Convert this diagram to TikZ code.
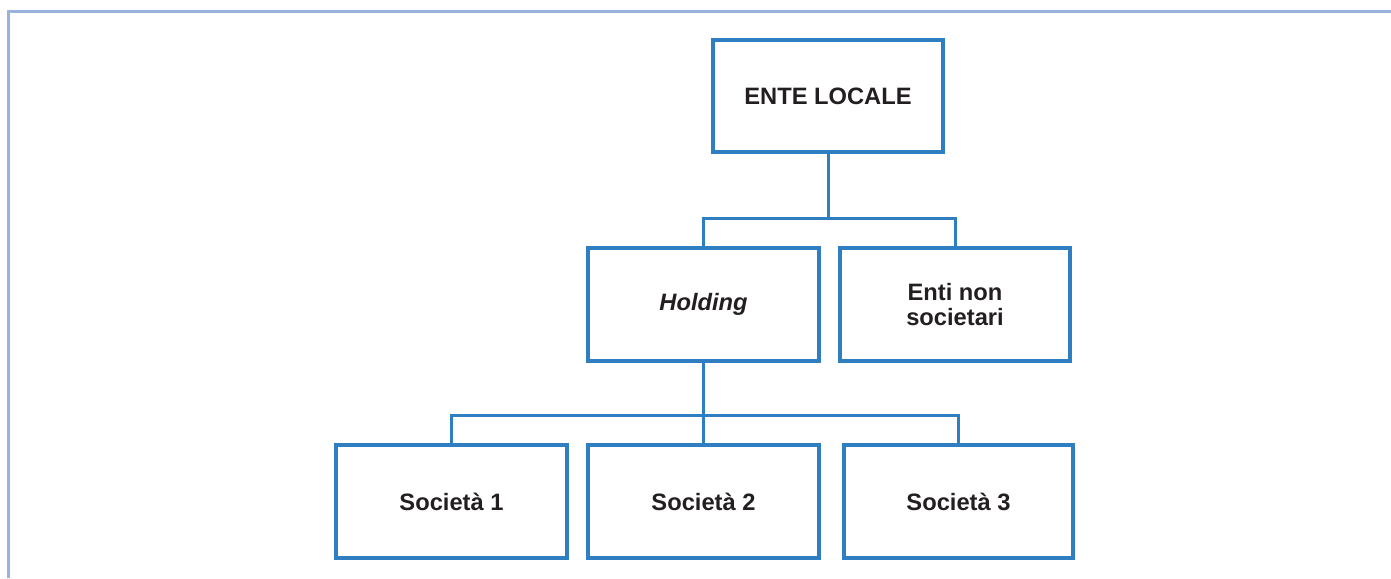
\documentclass[tikz,border=0pt]{standalone}
\usepackage{fontspec}
\setmainfont{Liberation Sans}
\definecolor{boxblue}{HTML}{2E7EC1}
\definecolor{framelav}{HTML}{99B2DE}
\definecolor{ink}{HTML}{231F20}
\begin{document}
\begin{tikzpicture}[x=1pt,y=-1pt,
  orgbox/.style={draw=boxblue, line width=3.2pt, fill=white, text=ink,
    minimum width=231pt, minimum height=113pt, inner sep=0pt, align=center,
    font=\fontsize{23.7}{24.5}\selectfont\bfseries},
  link/.style={draw=boxblue, line width=3pt}]
  \useasboundingbox (0,0) rectangle (1391,578);
  % outer frame (only top and left edges fall inside the page)
  \draw[framelav, line width=3pt] (8.5,578) -- (8.5,12) -- (1391,12);

  % boxes
  \node[orgbox, minimum width=230pt, minimum height=112pt] (ente) at (828,96) {ENTE LOCALE};
  \node[orgbox] (hold) at (703.5,304.5) {\itshape Holding};
  \node[orgbox, minimum width=230pt] (enti) at (955,304.5) {Enti non\\societari};
  \node[orgbox] (s1) at (451.5,501.5) {Società 1};
  \node[orgbox] (s2) at (703.5,501.5) {Società 2};
  \node[orgbox, minimum width=229pt] (s3) at (958.5,501.5) {Società 3};

  % junctions
  \coordinate (j1) at (828,218);
  \coordinate (j2) at (703.5,415);

  % connectors
  \draw[link] (ente.south) -- (j1);
  \draw[link] (hold.north) |- (j1) -| (enti.north);
  \draw[link] (hold.south) -- (s2.north);
  \draw[link] (s1.north) |- (j2) -| (s3.north);
\end{tikzpicture}
\end{document}
